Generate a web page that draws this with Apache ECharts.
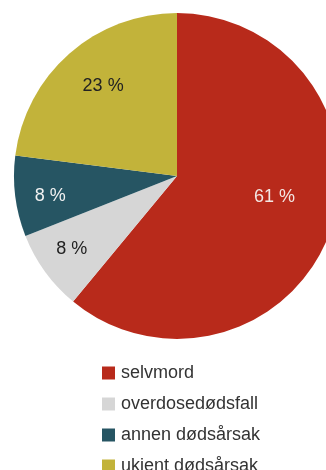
<!DOCTYPE html>
<html>
<head>
<meta charset="utf-8">
<script src="https://cdn.jsdelivr.net/npm/echarts@6/dist/echarts.min.js"></script>
<style>
  html, body { margin: 0; padding: 0; background: #fff; }
  #chart { width: 326px; height: 470px; }
</style>
</head>
<body>
<div id="chart"></div>
<script>
// Dødsårsaker, andel i prosent
const categories = ['selvmord', 'overdosedødsfall', 'annen dødsårsak', 'ukjent dødsårsak'];
const values = [61, 8, 8, 23];
const colors = ['#b82a1b', '#d6d6d6', '#265563', '#c2b33a'];
const labelColors = ['#f3e6e3', '#222222', '#f2f2f2', '#222222'];
// label nudges away from the default inner position
const labelShift = [[18, -8], [-37, 23], [-43, 9], [-18, -27]];

const chart = echarts.init(document.getElementById('chart'), null, { renderer: 'canvas' });

chart.setOption({
  animation: false,
  textStyle: { fontFamily: 'Liberation Sans, Arial, sans-serif' },
  legend: {
    orient: 'vertical',
    left: 97,
    top: 359,
    height: 300,
    itemWidth: 13,
    itemHeight: 13,
    itemGap: 13,
    icon: 'rect',
    selectedMode: false,
    textStyle: { fontSize: 18, color: '#333333', lineHeight: 18, padding: [0, 0, 0, 1] },
    data: categories
  },
  series: [{
    type: 'pie',
    center: [177, 176],
    radius: [0, 163],
    startAngle: 90,
    clockwise: true,
    silent: true,
    avoidLabelOverlap: false,
    label: {
      show: true,
      position: 'inside',
      fontSize: 18,
      formatter: p => p.value + ' %'
    },
    labelLine: { show: false },
    labelLayout: p => ({ dx: labelShift[p.dataIndex][0], dy: labelShift[p.dataIndex][1] }),
    data: categories.map((name, i) => ({
      name: name,
      value: values[i],
      itemStyle: { color: colors[i] },
      label: { color: labelColors[i] }
    }))
  }]
});
</script>
</body>
</html>
